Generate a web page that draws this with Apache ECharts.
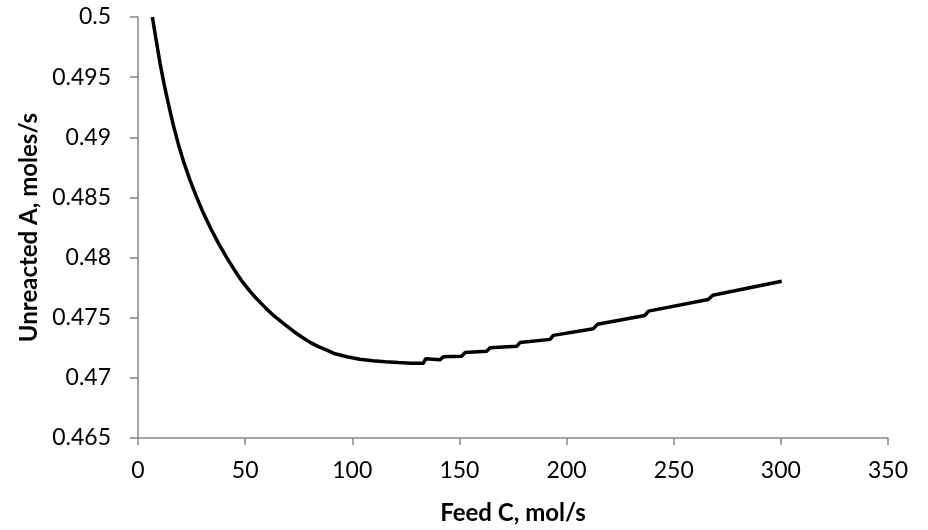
<!DOCTYPE html>
<html>
<head>
<meta charset="utf-8">
<script src="https://cdn.jsdelivr.net/npm/echarts@6/dist/echarts.min.js"></script>
<style>
  html, body { margin: 0; padding: 0; background: #fff; }
  #main { width: 928px; height: 530px; }
</style>
</head>
<body>
<div id="main"></div>
<script>
// feed of C (mol/s) and unreacted A (moles/s)
var feedC = [6.7, 8.5, 10.3, 12.2, 14.2, 16.5, 18.8, 21.5, 24.3, 27.3,
             30.5, 34, 37.5, 41.4, 45.3, 48.6, 52, 55.5, 59.5, 63.5,
             68, 72.5, 76.4, 80.3, 84.2, 88.1, 91.5, 92, 97.5, 98,
             103.5, 104, 109.5, 110, 115.5, 116, 121.5, 122, 127.5, 128,
             133.2, 134.2, 140.9, 142.5, 151, 152.6, 162.7, 164.3, 176.7, 178.3,
             192.3, 193.8, 212.5, 214.4, 236.6, 238.2, 266.1, 268.2, 300.4];
var unreactedA = [0.50000, 0.49805, 0.49615, 0.49440, 0.49275, 0.49100, 0.48945, 0.48785, 0.48642, 0.48505,
                  0.48370, 0.48240, 0.48120, 0.48000, 0.47888, 0.47802, 0.47725, 0.47655, 0.47582, 0.47515,
                  0.47450, 0.47388, 0.47340, 0.47295, 0.47260, 0.47230, 0.47203, 0.47215, 0.47176, 0.47190,
                  0.47155, 0.47168, 0.47143, 0.47156, 0.47134, 0.47146, 0.47127, 0.47139, 0.47122, 0.47133,
                  0.47122, 0.47158, 0.47150, 0.47175, 0.47180, 0.47210, 0.47222, 0.47250, 0.47262, 0.47293,
                  0.47320, 0.47353, 0.47409, 0.47445, 0.47519, 0.47555, 0.47651, 0.47687, 0.47803];

var xTicks = { min: 0, max: 350, step: 50 };
var yTicks = { min: 0.465, max: 0.5, step: 0.005 };

var chart = echarts.init(document.getElementById('main'));

var points = [];
for (var i = 0; i < feedC.length; i++) {
    points.push([feedC[i], unreactedA[i]]);
}

var axisGrey = '#868686';
var fontFam = 'Lato, "Open Sans", sans-serif';

var option = {
    animation: false,
    backgroundColor: '#fff',
    grid: {
        left: 138,
        right: 40,
        top: 17,
        bottom: 89
    },
    xAxis: {
        type: 'value',
        min: xTicks.min,
        max: xTicks.max,
        interval: xTicks.step,
        name: 'Feed C, mol/s',
        nameLocation: 'middle',
        nameGap: 63,
        nameTextStyle: { color: '#000', fontFamily: fontFam, fontWeight: 'bold', fontSize: 24 },
        axisLine: { lineStyle: { color: axisGrey, width: 1.5 } },
        axisTick: { show: true, inside: false, length: 7, lineStyle: { color: axisGrey, width: 1.5 } },
        axisLabel: { color: '#000', fontFamily: fontFam, fontSize: 23, margin: 21 },
        splitLine: { show: false }
    },
    yAxis: {
        type: 'value',
        min: yTicks.min,
        max: yTicks.max,
        interval: yTicks.step,
        name: 'Unreacted A, moles/s',
        nameLocation: 'middle',
        nameGap: 97,
        nameTextStyle: { color: '#000', fontFamily: fontFam, fontWeight: 'bold', fontSize: 24 },
        axisLine: { show: true, lineStyle: { color: axisGrey, width: 1.5 } },
        axisTick: { show: true, inside: false, length: 8, lineStyle: { color: axisGrey, width: 1.5 } },
        axisLabel: {
            color: '#000', fontFamily: fontFam, fontSize: 23, margin: 27,
            formatter: function (v) { return String(+v.toFixed(3)); }
        },
        splitLine: { show: false }
    },
    series: [
        {
            name: 'Unreacted A',
            type: 'line',
            data: points,
            showSymbol: false,
            symbol: 'none',
            smooth: false,
            clip: true,
            lineStyle: { color: '#000', width: 3.5 }
        }
    ]
};

chart.setOption(option);
</script>
</body>
</html>
